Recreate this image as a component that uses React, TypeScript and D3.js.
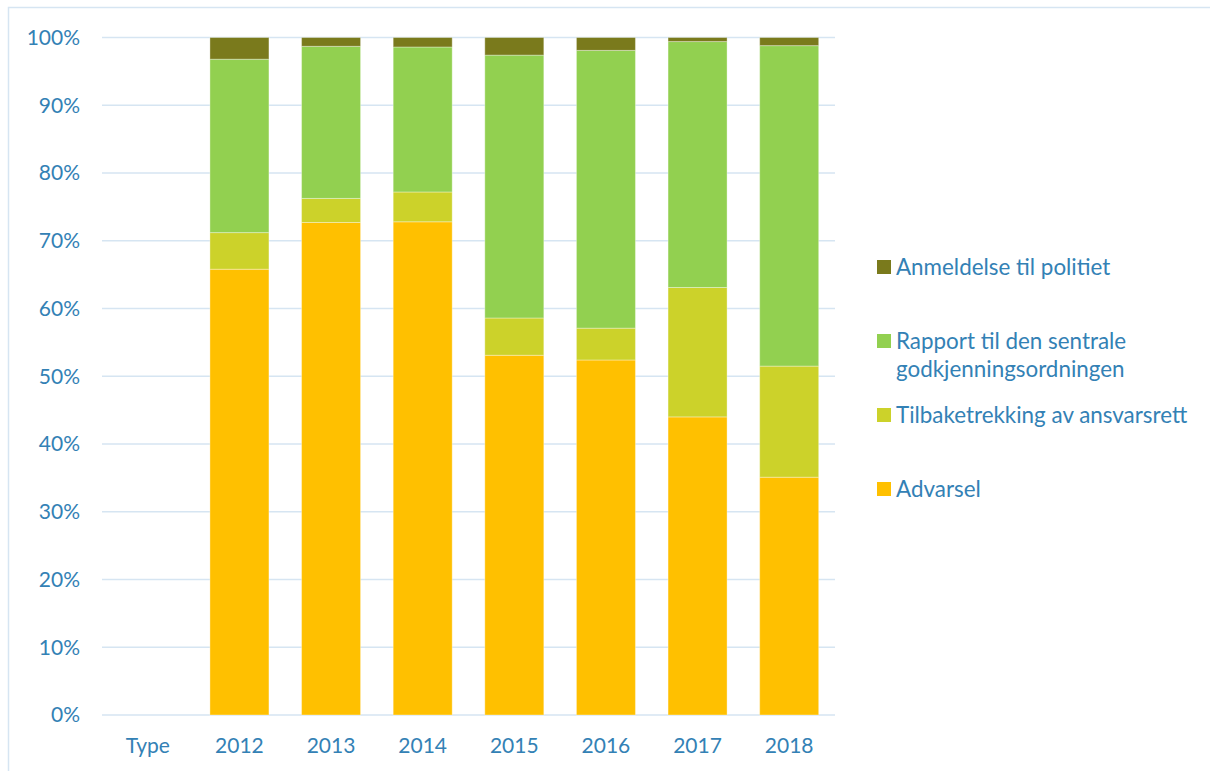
import React from "react";
import * as d3 from "d3";

const categories = ["Type", "2012", "2013", "2014", "2015", "2016", "2017", "2018"];
const seriesNames = [
  "Advarsel",
  "Tilbaketrekking av ansvarsrett",
  "Rapport til den sentrale godkjenningsordningen",
  "Anmeldelse til politiet",
];
const advarsel = [0, 65.8, 72.7, 72.8, 53.1, 52.4, 44.0, 35.1];
const tilbaketrekking = [0, 5.4, 3.55, 4.4, 5.5, 4.7, 19.1, 16.4];
const rapport = [0, 25.6, 22.45, 21.4, 38.8, 41.0, 36.3, 47.3];
const anmeldelse = [0, 3.2, 1.3, 1.4, 2.6, 1.9, 0.6, 1.2];
const yTicks = [0, 10, 20, 30, 40, 50, 60, 70, 80, 90, 100];
const colors = ["#FFC000", "#CCD22A", "#92D050", "#7A7A1C"];

const legendItems = [
  { name: "Anmeldelse til politiet", lines: ["Anmeldelse til politiet"], color: colors[3], y: 267 },
  { name: "Rapport", lines: ["Rapport til den sentrale", "godkjenningsordningen"], color: colors[2], y: 341 },
  { name: "Tilbaketrekking", lines: ["Tilbaketrekking av ansvarsrett"], color: colors[1], y: 415 },
  { name: "Advarsel", lines: ["Advarsel"], color: colors[0], y: 489 },
];

export default function App() {
  const W = 1210, H = 771;
  const left = 102, right = 835, top = 37.5, bottom = 715;
  const x = d3.scaleBand().domain(categories).range([left, right]).paddingInner(0.356).paddingOuter(0.178);
  const y = d3.scaleLinear().domain([0, 100]).range([bottom, top]);
  const rows = categories.map((c, i) => ({
    cat: c,
    [seriesNames[0]]: advarsel[i],
    [seriesNames[1]]: tilbaketrekking[i],
    [seriesNames[2]]: rapport[i],
    [seriesNames[3]]: anmeldelse[i],
  }));
  const stacked = d3.stack<any>().keys(seriesNames)(rows);
  const textColor = "#3381B5";
  const font = "Lato, 'Open Sans', sans-serif";
  return (
    <svg width={W} height={H} style={{ position: "absolute", left: 0, top: 0, background: "#fff" }} fontFamily={font}>
      <rect x={8.5} y={7.5} width={W + 10} height={H + 10} fill="none" stroke="#D6E5F2" strokeWidth={1.5} />
      {yTicks.map((t) => (
        <g key={t}>
          <line x1={left} x2={right} y1={y(t)} y2={y(t)} stroke="#D6E5F2" strokeWidth={1.5} />
          <text x={80} y={y(t)} dy="0.35em" textAnchor="end" fill={textColor} fontSize={21}>
            {t + "%"}
          </text>
        </g>
      ))}
      {stacked.map((s, si) => (
        <g key={s.key} fill={colors[si]}>
          {s.map((d, i) =>
            d[1] - d[0] > 0 ? (
              <rect
                key={i}
                x={x(categories[i])}
                width={x.bandwidth()}
                y={y(d[1])}
                height={y(d[0]) - y(d[1])}
                stroke="#ffffff"
                strokeOpacity={0.35}
                strokeWidth={1}
              />
            ) : null
          )}
        </g>
      ))}
      {categories.map((c) => (
        <text key={c} x={(x(c) as number) + x.bandwidth() / 2} y={746} dy="0.35em" textAnchor="middle" fill={textColor} fontSize={21}>
          {c}
        </text>
      ))}
      {legendItems.map((it) => (
        <g key={it.name}>
          <rect x={877} y={it.y - 7} width={14} height={14} fill={it.color} />
          {it.lines.map((l, li) => (
            <text key={li} x={896} y={it.y + li * 28} dy="0.35em" fill={textColor} fontSize={22.4}>
              {l}
            </text>
          ))}
        </g>
      ))}
    </svg>
  );
}
